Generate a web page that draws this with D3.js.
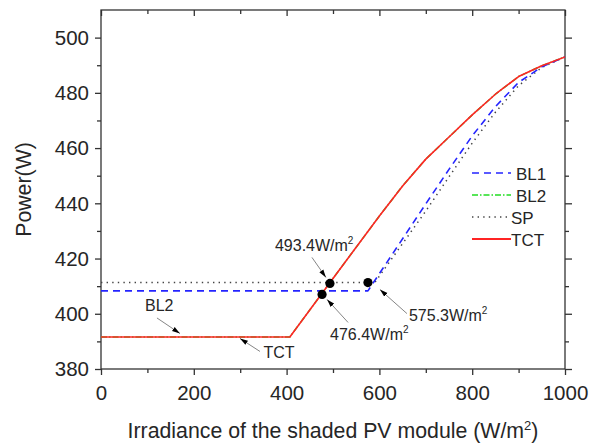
<!DOCTYPE html>
<html>
<head>
<meta charset="utf-8">
<script src="https://cdn.jsdelivr.net/npm/d3@7"></script>
<style>
  html, body { margin: 0; padding: 0; background: #fff; }
  svg { display: block; font-family: "Liberation Sans", Arial, sans-serif; }
</style>
</head>
<body>
<svg id="chart" width="591" height="447"></svg>
<script>
// Irradiance of the shaded module (W/m^2) and array power (W) per configuration
const tctIrr = [0, 407, 500, 600, 650, 700, 750, 800, 850, 900, 950, 1000];
const tctPow = [391.6, 391.6, 412.8, 435.4, 446.3, 456.0, 464.0, 472.0, 479.5, 485.9, 489.8, 493.0];

const bl2Irr = [0, 407, 500, 600, 650, 700, 750, 800, 850, 900, 950, 1000];
const bl2Pow = [391.6, 391.6, 412.8, 435.4, 446.3, 456.0, 464.0, 472.0, 479.5, 485.9, 489.8, 493.0];

const bl1Irr = [0, 575.3, 700, 750, 800, 850, 900, 950, 1000];
const bl1Pow = [408.3, 408.3, 439.8, 452.3, 464.4, 475.0, 483.8, 489.4, 493.0];

const spIrr = [0, 590, 700, 750, 800, 850, 900, 950, 1000];
const spPow = [411.3, 411.3, 437.2, 449.6, 461.8, 473.0, 482.6, 489.2, 493.0];

// Marked crossover points
const markIrr = [493.4, 476.4, 575.3];
const markPow = [411.0, 407.0, 411.3];

// Axis ticks
const xTicks = [0, 200, 400, 600, 800, 1000];
const xMinor = [100, 300, 500, 700, 900];
const yTicks = [380, 400, 420, 440, 460, 480, 500];
const yMinor = [390, 410, 430, 450, 470, 490];

const seriesNames = ["BL1", "BL2", "SP", "TCT"];

// ---- layout ----
const svg = d3.select("#chart");
const L = 101, R = 565, T = 10, B = 369;
const ink = "#262626";
const axisInk = "#333";

const x = d3.scaleLinear().domain([0, 1000]).range([L, R]);
const y = d3.scaleLinear().domain([380, 510]).range([B, T]);

const styles = {
  BL1: { color: "#2424ff", dash: "7,5", width: 1.6 },
  BL2: { color: "#22dd22", dash: "6,2,1.5,2", width: 1.5 },
  SP:  { color: "#444", dash: "1.4,4.2", width: 1.5 },
  TCT: { color: "#ff2424", dash: null, width: 1.6 }
};

const series = {
  BL1: d3.zip(bl1Irr, bl1Pow),
  BL2: d3.zip(bl2Irr, bl2Pow),
  SP:  d3.zip(spIrr, spPow),
  TCT: d3.zip(tctIrr, tctPow)
};

// arrowhead for leader lines
svg.append("defs").append("marker")
  .attr("id", "tip")
  .attr("markerUnits", "userSpaceOnUse")
  .attr("markerWidth", 9).attr("markerHeight", 6)
  .attr("refX", 8).attr("refY", 3)
  .attr("orient", "auto")
  .append("path").attr("d", "M0,0.6 L8,3 L0,5.4 Z").attr("fill", "#000");

// ---- axes ----
function styleAxis(g) {
  g.select(".domain").remove();
  g.selectAll(".tick line").attr("stroke", axisInk).attr("stroke-width", 1.3);
  g.selectAll("text").attr("fill", ink).attr("font-size", 20.5)
    .attr("font-family", "Liberation Sans, Arial, sans-serif");
}

const gx = svg.append("g").attr("transform", `translate(0,${B})`)
  .call(d3.axisBottom(x).tickValues(xTicks).tickSize(6).tickFormat(d3.format("d")));
styleAxis(gx);
gx.selectAll("text").attr("y", 31).attr("dy", 0);
svg.append("g").attr("transform", `translate(0,${B})`)
  .call(d3.axisBottom(x).tickValues(xMinor).tickSize(4).tickFormat(""))
  .call(styleAxis);

const gy = svg.append("g").attr("transform", `translate(${L},0)`)
  .call(d3.axisLeft(y).tickValues(yTicks).tickSize(6).tickFormat(d3.format("d")));
styleAxis(gy);
gy.selectAll("text").attr("x", -12).attr("dy", "0.33em");
svg.append("g").attr("transform", `translate(${L},0)`)
  .call(d3.axisLeft(y).tickValues(yMinor).tickSize(4).tickFormat(""))
  .call(styleAxis);

// top: ticks point inward, no labels
svg.append("g").attr("transform", `translate(0,${T})`)
  .call(d3.axisTop(x).tickValues(xTicks).tickSize(-6).tickFormat(""))
  .call(styleAxis);
svg.append("g").attr("transform", `translate(0,${T})`)
  .call(d3.axisTop(x).tickValues(xMinor).tickSize(-4).tickFormat(""))
  .call(styleAxis);

// right: ticks point outward, no labels
svg.append("g").attr("transform", `translate(${R},0)`)
  .call(d3.axisRight(y).tickValues(yTicks).tickSize(7).tickFormat(""))
  .call(styleAxis);
svg.append("g").attr("transform", `translate(${R},0)`)
  .call(d3.axisRight(y).tickValues(yMinor).tickSize(4).tickFormat(""))
  .call(styleAxis);

// plot frame
svg.append("rect")
  .attr("x", L).attr("y", T).attr("width", R - L).attr("height", B - T)
  .attr("fill", "none").attr("stroke", axisInk).attr("stroke-width", 1.3);

// axis titles
const xTitle = svg.append("text")
  .attr("x", (L + R) / 2).attr("y", 438)
  .attr("text-anchor", "middle").attr("font-size", 21.3).attr("fill", ink);
xTitle.append("tspan").text("Irradiance of the shaded PV module (W/m");
xTitle.append("tspan").attr("font-size", 13).attr("dy", -8).text("2");
xTitle.append("tspan").attr("dy", 8).text(")");

svg.append("text")
  .attr("transform", `translate(31,${(T + B) / 2}) rotate(-90)`)
  .attr("text-anchor", "middle").attr("font-size", 21.3).attr("fill", ink)
  .text("Power(W)");

// ---- series ----
const line = d3.line().x(d => x(d[0])).y(d => y(d[1]));
svg.append("clipPath").attr("id", "plotArea")
  .append("rect").attr("x", L).attr("y", T).attr("width", R - L).attr("height", B - T);

const plot = svg.append("g").attr("clip-path", "url(#plotArea)");
// green drawn first: it coincides with the red TCT curve
["BL2", "SP", "BL1", "TCT"].forEach(name => {
  const s = styles[name];
  plot.append("path")
    .datum(series[name])
    .attr("d", line)
    .attr("fill", "none")
    .attr("stroke", s.color)
    .attr("stroke-width", s.width)
    .attr("stroke-linejoin", "round")
    .attr("stroke-dasharray", s.dash);
});

// ---- legend ----
const legRows = [173, 195, 217, 239];
const legTextX = [516, 516, 511, 511];
seriesNames.forEach((name, i) => {
  const s = styles[name];
  svg.append("line")
    .attr("x1", 472).attr("x2", 511).attr("y1", legRows[i]).attr("y2", legRows[i])
    .attr("stroke", s.color).attr("stroke-width", name === "TCT" ? 2.2 : s.width)
    .attr("stroke-dasharray", s.dash);
  svg.append("text")
    .attr("x", legTextX[i]).attr("y", legRows[i] + 6.5)
    .attr("font-size", 17).attr("fill", ink).text(name);
});

// ---- annotations ----
// pixel offsets of label and leader line relative to the marked point
const markLayout = [
  { tx: -55, ty: -32, lx1: -18, ly1: -26, lx2: -4, ly2: -6 },
  { tx: 8, ty: 46, lx1: 26, ly1: 28, lx2: 5, ly2: 5 },
  { tx: 41, ty: 38, lx1: 39, ly1: 31, lx2: 12, ly2: 7 }
];

function leader(x1, y1, x2, y2) {
  svg.append("line")
    .attr("x1", x1).attr("y1", y1).attr("x2", x2).attr("y2", y2)
    .attr("stroke", "#777").attr("stroke-width", 0.9)
    .attr("marker-end", "url(#tip)");
}

markIrr.forEach((v, i) => {
  const px = x(v), py = y(markPow[i]);
  const o = markLayout[i];
  leader(px + o.lx1, py + o.ly1, px + o.lx2, py + o.ly2);
  const t = svg.append("text").attr("x", px + o.tx).attr("y", py + o.ty)
    .attr("font-size", 16).attr("fill", ink);
  t.append("tspan").text(d3.format(".1f")(v) + "W/m");
  t.append("tspan").attr("font-size", 10).attr("dy", -7).text("2");
});
svg.selectAll(null).data(markIrr).enter().append("circle")
  .attr("cx", d => x(d)).attr("cy", (d, i) => y(markPow[i]))
  .attr("r", 4.6).attr("fill", "#000");

// curve labels pointing at the flat segment
const curveTags = [
  { name: "BL2", irr: 174.5, tx: -37, ty: -25.5, lx1: -25, ly1: -19, lx2: -2, ly2: -3.5 },
  { name: "TCT", irr: 295.2, tx: 25.5, ty: 21, lx1: 22, ly1: 14.5, lx2: 2, ly2: 1.5 }
];
curveTags.forEach(c => {
  const px = x(c.irr), py = y(tctPow[0]);
  leader(px + c.lx1, py + c.ly1, px + c.lx2, py + c.ly2);
  svg.append("text").attr("x", px + c.tx).attr("y", py + c.ty)
    .attr("font-size", 16).attr("fill", ink).text(c.name);
});
</script>
</body>
</html>
